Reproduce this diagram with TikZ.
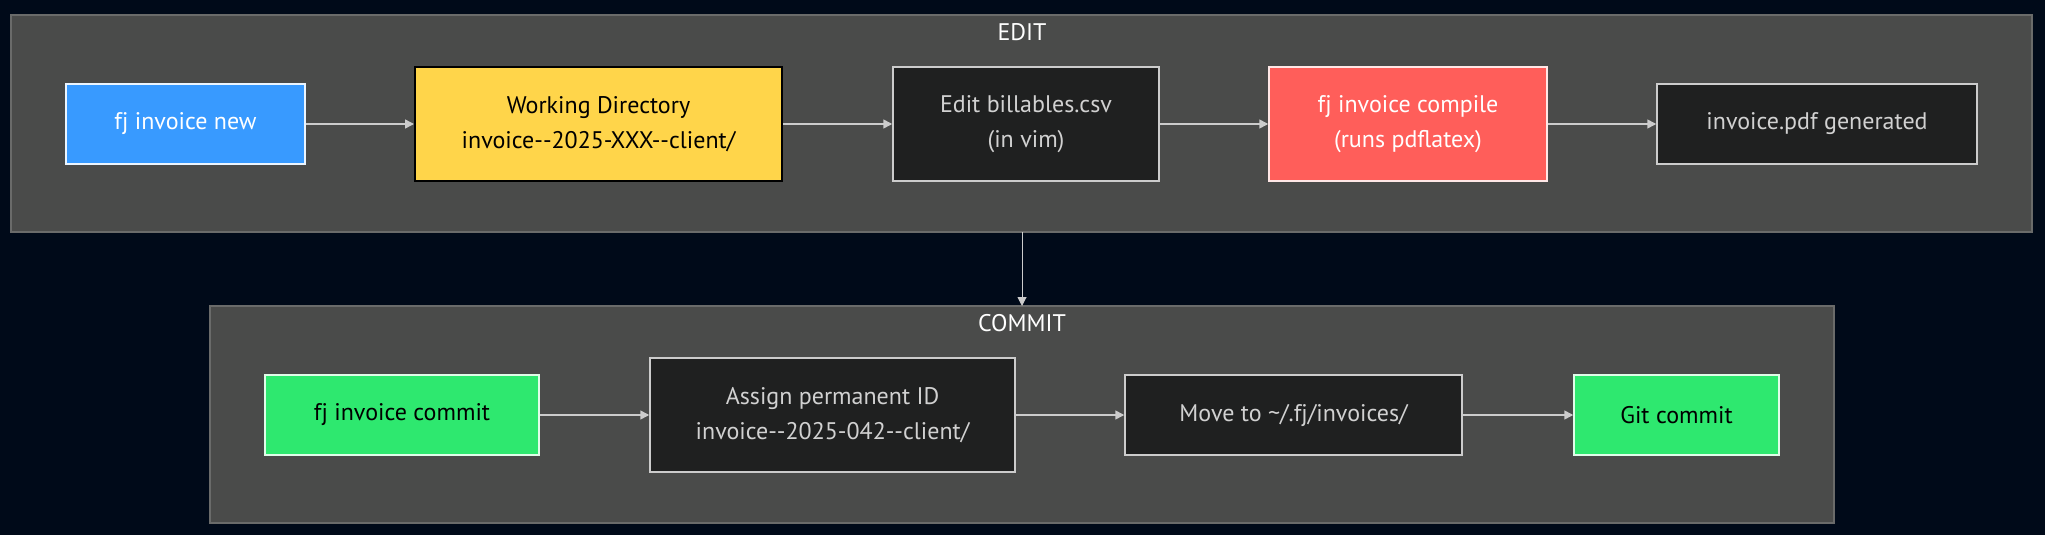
\documentclass[tikz,border=0pt]{standalone}
\usepackage{fontspec}
\setmainfont{PT Sans}[Ligatures=TeXOff]
\usetikzlibrary{arrows.meta}

\definecolor{bgnavy}{HTML}{000A19}
\definecolor{clusterfill}{HTML}{4A4B4A}
\definecolor{clusterline}{HTML}{6A6B6A}
\definecolor{cmdblue}{HTML}{389AFF}
\definecolor{dirgold}{HTML}{FFD54A}
\definecolor{buildred}{HTML}{FF5E5A}
\definecolor{donegreen}{HTML}{2EE86F}
\definecolor{stepdark}{HTML}{1F2020}
\definecolor{linegray}{HTML}{CCCCCC}

\begin{document}
\begin{tikzpicture}[x=1pt,y=-1pt,
    every node/.style={font=\fontsize{24}{35}\selectfont,align=center,inner sep=0pt},
    stepbox/.style={draw=linegray,line width=1.5pt,fill=stepdark,text=linegray!90!white},
    cmdbox/.style={draw=white!90!cmdblue,line width=1.5pt,fill=cmdblue,text=white},
    dirbox/.style={draw=black,line width=2pt,fill=dirgold,text=black},
    buildbox/.style={draw=white!85!buildred,line width=1.5pt,fill=buildred,text=white},
    donebox/.style={draw=white!85!donegreen,line width=1.5pt,fill=donegreen,text=black},
    cluster/.style={draw=clusterline,line width=1.5pt,fill=clusterfill},
    flow/.style={draw=linegray,line width=1.5pt,-{Triangle[length=9pt,width=9pt]}}]

% === Background ===
\fill[bgnavy] (0,0) rectangle (2045,535);
\useasboundingbox (0,0) rectangle (2045,535);

% === Cluster: EDIT ===
\draw[cluster] (11,15) rectangle (2032,232);
\node[text=white] (editlabel) at (1022,32) {EDIT};

\node[cmdbox,minimum width=239pt,minimum height=80pt] (new) at (185.5,124) {fj invoice new};
\node[dirbox,minimum width=367pt,minimum height=114pt] (workdir) at (598.5,124) {Working Directory\\invoice--2025-XXX--client/};
\node[stepbox,minimum width=266pt,minimum height=114pt] (editcsv) at (1026,124) {Edit billables.csv\\(in vim)};
\node[buildbox,minimum width=278pt,minimum height=114pt] (compile) at (1408,124) {fj invoice compile\\(runs pdflatex)};
\node[stepbox,minimum width=320pt,minimum height=80pt] (pdf) at (1817,124) {invoice.pdf generated};

% === Cluster: COMMIT ===
\draw[cluster] (210,306) rectangle (1834,523);
\node[text=white] (commitlabel) at (1022,323) {COMMIT};

\node[donebox,minimum width=274pt,minimum height=80pt] (commitcmd) at (402,415) {fj invoice commit};
\node[stepbox,minimum width=365pt,minimum height=114pt] (assign) at (832.5,415) {Assign permanent ID\\invoice--2025-042--client/};
\node[stepbox,minimum width=337pt,minimum height=80pt] (move) at (1293.5,415) {Move to \textasciitilde/.fj/invoices/};
\node[donebox,minimum width=205pt,minimum height=80pt] (git) at (1676.5,415) {Git commit};

% === Flow arrows ===
\draw[flow] (new) -- (workdir);
\draw[flow] (workdir) -- (editcsv);
\draw[flow] (editcsv) -- (compile);
\draw[flow] (compile) -- (pdf);

\draw[flow] (commitcmd) -- (assign);
\draw[flow] (assign) -- (move);
\draw[flow] (move) -- (git);

% === Between clusters ===
\coordinate (editbottom) at (1022,232);
\coordinate (committop) at (1022,306);
\draw[flow,line width=1pt] (editbottom) -- (committop);

\end{tikzpicture}
\end{document}
